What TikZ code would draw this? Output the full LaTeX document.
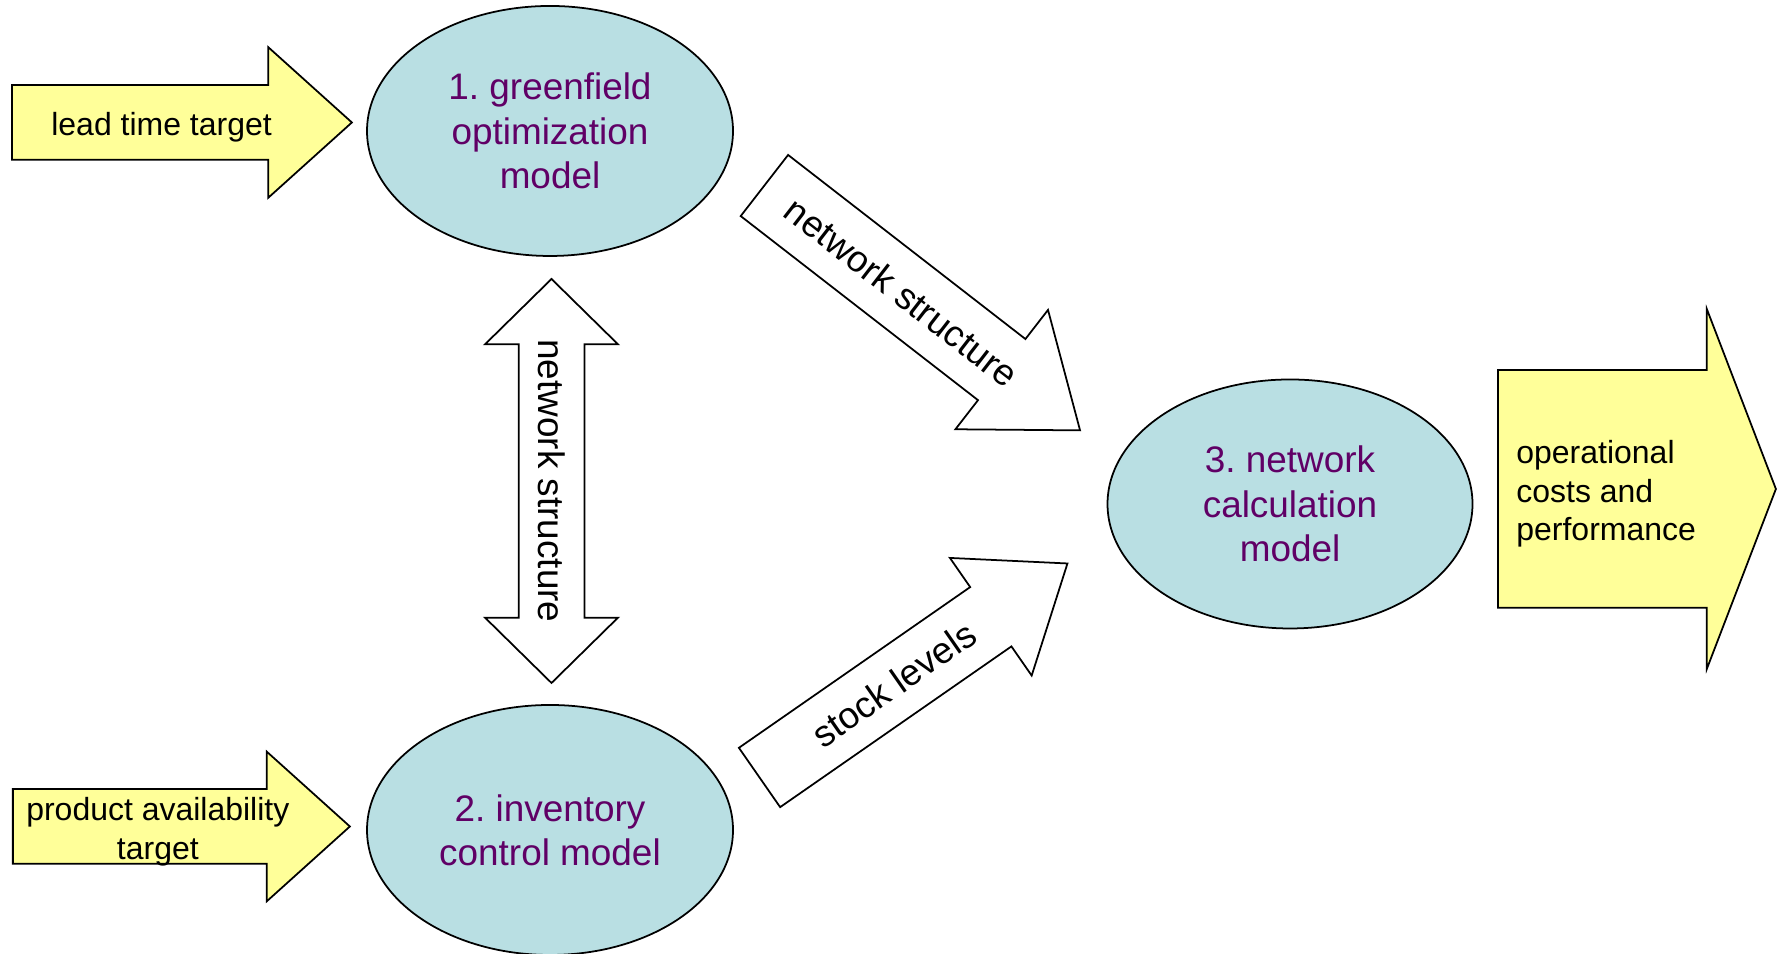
\documentclass[tikz,border=0pt]{standalone}
\usepackage{fontspec}
\setmainfont{Liberation Sans}
\frenchspacing
\usetikzlibrary{shapes.geometric}
\usetikzlibrary{shapes.arrows}
\usetikzlibrary{calc}

\definecolor{modelfill}{RGB}{185,223,227}
\definecolor{modeltext}{RGB}{96,0,102}
\definecolor{inputfill}{RGB}{255,255,153}

\tikzset{
  model/.style={ellipse, draw, line width=0.5pt, fill=modelfill, text=modeltext,
    minimum width=3.66cm, minimum height=2.5cm, inner sep=0pt, align=center,
    font=\fontsize{10.5}{12.6}\selectfont},
  blockarrow/.style={single arrow, draw, line width=0.5pt, inner xsep=0pt,
    anchor=tail, single arrow head indent=0pt},
  inarrow/.style={blockarrow, fill=inputfill},
  flow/.style={blockarrow, fill=white},
  smalltext/.style={align=center, inner sep=0pt, yshift=-0.05cm,
    font=\fontsize{9.1}{11}\selectfont},
  bigtext/.style={align=center, inner sep=0pt, font=\fontsize{10.5}{12.6}\selectfont}
}

\begin{document}
\begin{tikzpicture}
  \useasboundingbox (0,0) rectangle (17.79,9.54);
  %% Draw the three models.
  \node[model] (m1) at (5.50,8.23) {1. greenfield\\optimization\\model};
  \node[model] (m2) at (5.50,1.24) {2. inventory\\control model};
  \node[model, minimum width=3.65cm, minimum height=2.49cm] (m3) at (12.90,4.50)
    {3. network\\calculation\\model};
  %% Inputs and output.
  \node[inarrow, minimum height=3.40cm, inner ysep=0.365cm,
    single arrow head extend=0.38cm, single arrow tip angle=84] (lt) at (0.11,8.315) {};
  \node[smalltext] (lt text) at ($(lt.tail)!0.44!(lt.tip)$) {lead time target};
  \node[inarrow, minimum height=3.37cm, inner ysep=0.365cm,
    single arrow head extend=0.375cm, single arrow tip angle=84] (pa) at (0.12,1.275) {};
  \node[smalltext] (pa text) at ($(pa.tail)!0.43!(pa.tip)$) {product availability\\target};
  \node[inarrow, minimum height=2.78cm, inner ysep=1.18cm,
    single arrow head extend=0.61cm, single arrow tip angle=138] (oc) at (14.97,4.65) {};
  \node[smalltext, align=left] (oc text) at ($(oc.tail)!0.39!(oc.tip)$)
    {operational\\costs and\\performance};
  %% Flows between the models.
  \node[double arrow, draw, line width=0.5pt, fill=white, inner xsep=0pt, inner ysep=0.32cm,
    rotate=-90, minimum height=4.04cm, double arrow head extend=0.335cm,
    double arrow tip angle=91] (ns1) at (5.515,4.73) {};
  \node[bigtext, rotate=-90] (ns1 text) at (ns1.center) {network structure};
  \node[flow, rotate=-37.8, minimum height=3.995cm, inner ysep=0.378cm,
    single arrow head extend=0.3685cm, single arrow tip angle=74.6] (ns2) at (7.637,7.69) {};
  \node[bigtext, rotate=-37.8] (ns2 text) at ($(ns2.tail)!0.435!(ns2.tip)$) {network structure};
  \node[flow, rotate=34.8, minimum height=3.75cm, inner ysep=0.3525cm,
    single arrow head extend=0.355cm, single arrow tip angle=75] (sl) at (7.588,1.76) {};
  \node[bigtext, rotate=34.8] (sl text) at ($(sl.tail)!0.436!(sl.tip)$) {stock levels};
\end{tikzpicture}
\end{document}
